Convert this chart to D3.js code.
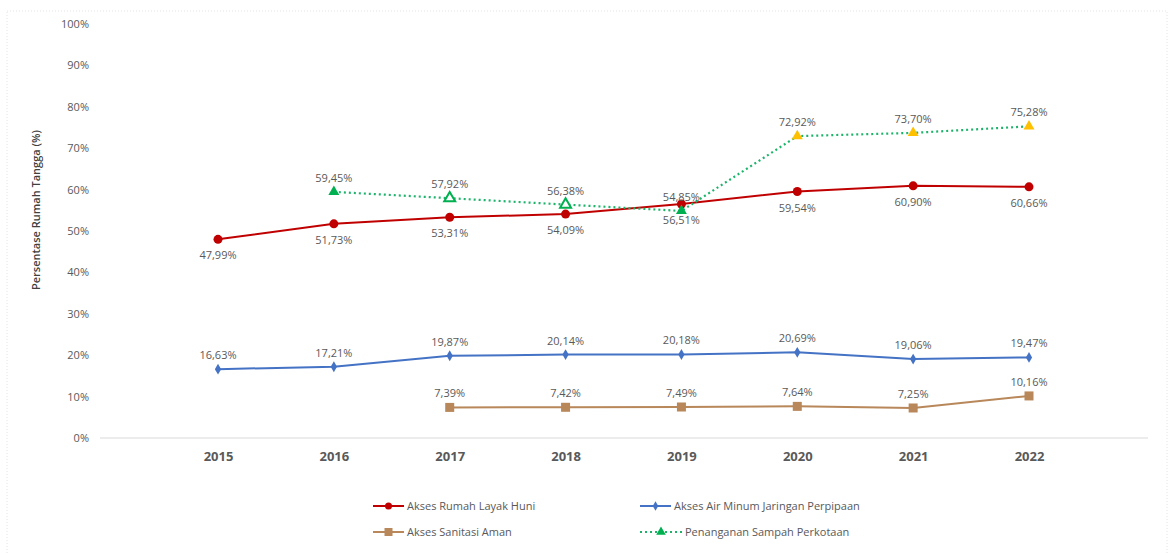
<!DOCTYPE html>
<html>
<head>
<meta charset="utf-8">
<script src="https://cdn.jsdelivr.net/npm/d3@7"></script>
<style>
  body { margin: 0; background: #fff; }
  svg { font-family: "Open Sans", "Noto Sans", sans-serif; }
</style>
</head>
<body>
<svg id="chart" width="1170" height="554"></svg>
<script>
const years = ["2015", "2016", "2017", "2018", "2019", "2020", "2021", "2022"];
const rumahLayak = [47.99, 51.73, 53.31, 54.09, 56.51, 59.54, 60.90, 60.66];
const airMinum = [16.63, 17.21, 19.87, 20.14, 20.18, 20.69, 19.06, 19.47];
const sanitasi = [null, null, 7.39, 7.42, 7.49, 7.64, 7.25, 10.16];
const sampah = [null, 59.45, 57.92, 56.38, 54.85, 72.92, 73.70, 75.28];
const yTicks = [0, 10, 20, 30, 40, 50, 60, 70, 80, 90, 100];

const svg = d3.select('#chart');
const fmt = v => v.toFixed(2).replace('.', ',') + '%';

const x = d3.scalePoint().domain(years).range([218, 1029]);
const y = d3.scaleLinear().domain([0, 100]).range([438, 24]);

// faint border round the chart area
svg.append('rect')
    .attr('x', 7).attr('y', 11)
    .attr('width', 1160).attr('height', 545)
    .attr('fill', 'none')
    .attr('stroke', '#e4e4e4')
    .attr('stroke-dasharray', '1,2');

// y axis labels
const yAxis = d3.axisLeft(y).tickValues(yTicks).tickSize(0).tickPadding(0)
    .tickFormat(d => d + '%');
svg.append('g')
    .attr('transform', 'translate(89,0)')
    .call(yAxis)
    .call(g => g.select('.domain').remove())
    .selectAll('text')
    .attr('font-size', 11)
    .attr('fill', '#595959')
    .attr('font-family', '"Open Sans", sans-serif');

// zero line
svg.append('line')
    .attr('x1', 100).attr('x2', 1148)
    .attr('y1', y(0)).attr('y2', y(0))
    .attr('stroke', '#d9d9d9')
    .attr('stroke-width', 1);

// x axis labels
const xAxis = d3.axisBottom(x).tickSize(0).tickPadding(0);
svg.append('g')
    .attr('transform', 'translate(0,452)')
    .call(xAxis)
    .call(g => g.select('.domain').remove())
    .selectAll('text')
    .attr('font-size', 13)
    .attr('font-weight', 'bold')
    .attr('fill', '#595959')
    .attr('font-family', '"Open Sans", sans-serif');

// y title
svg.append('text')
    .attr('transform', 'translate(40,210) rotate(-90)')
    .attr('text-anchor', 'middle')
    .attr('font-size', 11)
    .attr('font-weight', 600)
    .attr('fill', '#404040')
    .text('Persentase Rumah Tangga (%)');

function points(vals) {
    return years.map((yr, i) => ({ year: yr, value: vals[i], i: i })).filter(d => d.value !== null);
}

const lineGen = d3.line().x(d => x(d.year)).y(d => y(d.value));

function drawLine(vals, color, dash, width) {
    svg.append('path')
        .datum(points(vals))
        .attr('d', lineGen)
        .attr('fill', 'none')
        .attr('stroke', color)
        .attr('stroke-width', width)
        .attr('stroke-dasharray', dash);
}

function drawLabels(vals, dy) {
    svg.append('g').selectAll('text')
        .data(points(vals))
        .enter().append('text')
        .attr('x', d => x(d.year))
        .attr('y', d => y(d.value) + dy)
        .attr('text-anchor', 'middle')
        .attr('font-size', 11)
        .attr('fill', '#595959')
        .text(d => fmt(d.value));
}

const triangle = d3.symbol().type(d3.symbolTriangle).size(52);
const diamond = d3.symbol().type(d3.symbolDiamond).size(34);

// series lines
drawLine(sanitasi, '#B8875A', null, 2);
drawLine(airMinum, '#4472C4', null, 2);
drawLine(rumahLayak, '#C00000', null, 2);
drawLine(sampah, '#1DB36B', '2,3', 2.2);

// markers
svg.append('g').selectAll('rect')
    .data(points(sanitasi))
    .enter().append('rect')
    .attr('x', d => x(d.year) - 4.5)
    .attr('y', d => y(d.value) - 4.5)
    .attr('width', 9).attr('height', 9)
    .attr('fill', '#B8875A');

svg.append('g').selectAll('path')
    .data(points(airMinum))
    .enter().append('path')
    .attr('d', diamond)
    .attr('transform', d => `translate(${x(d.year)},${y(d.value)})`)
    .attr('fill', '#4472C4');

svg.append('g').selectAll('circle')
    .data(points(rumahLayak))
    .enter().append('circle')
    .attr('cx', d => x(d.year))
    .attr('cy', d => y(d.value))
    .attr('r', 4.5)
    .attr('fill', '#C00000');

const hollowYears = ["2017", "2018"];
const yellowYears = ["2020", "2021", "2022"];
svg.append('g').selectAll('path')
    .data(points(sampah))
    .enter().append('path')
    .attr('d', triangle)
    .attr('transform', d => `translate(${x(d.year)},${y(d.value)})`)
    .attr('fill', d => yellowYears.includes(d.year) ? '#FFC000' : (hollowYears.includes(d.year) ? '#fff' : '#00B050'))
    .attr('stroke', d => hollowYears.includes(d.year) ? '#00B050' : 'none')
    .attr('stroke-width', 2);

// data labels
drawLabels(rumahLayak, 20);
drawLabels(airMinum, -10);
drawLabels(sanitasi, -10);
drawLabels(sampah, -10);

// legend
const legend = svg.append('g').attr('font-size', 11).attr('fill', '#595959');
const legendItems = [
    { name: 'Akses Rumah Layak Huni', x: 373, y: 506, color: '#C00000', mark: 'circle' },
    { name: 'Akses Air Minum Jaringan Perpipaan', x: 640, y: 506, color: '#4472C4', mark: 'diamond' },
    { name: 'Akses Sanitasi Aman', x: 373, y: 532, color: '#B8875A', mark: 'square' },
    { name: 'Penanganan Sampah Perkotaan', x: 640, y: 532, color: '#1DB36B', mark: 'triangle' }
];
legendItems.forEach(item => {
    const g = legend.append('g').attr('transform', `translate(${item.x},${item.y})`);
    const w = item.mark === 'triangle' ? 42 : 31;
    g.append('line')
        .attr('x1', 0).attr('x2', w).attr('y1', 0).attr('y2', 0)
        .attr('stroke', item.color)
        .attr('stroke-width', 2)
        .attr('stroke-dasharray', item.mark === 'triangle' ? '2,3' : null);
    if (item.mark === 'circle') {
        g.append('circle').attr('cx', w / 2).attr('cy', 0).attr('r', 3.5).attr('fill', item.color);
    } else if (item.mark === 'diamond') {
        g.append('path').attr('d', d3.symbol().type(d3.symbolDiamond).size(26)).attr('transform', `translate(${w / 2},0)`).attr('fill', item.color);
    } else if (item.mark === 'square') {
        g.append('rect').attr('x', w / 2 - 4).attr('y', -4).attr('width', 8).attr('height', 8).attr('fill', item.color);
    } else {
        g.append('path').attr('d', d3.symbol().type(d3.symbolTriangle).size(40)).attr('transform', `translate(${w / 2},0)`).attr('fill', '#00B050');
    }
    g.append('text')
        .attr('x', w + 3)
        .attr('y', 4)
        .text(item.name);
});
</script>
</body>
</html>
